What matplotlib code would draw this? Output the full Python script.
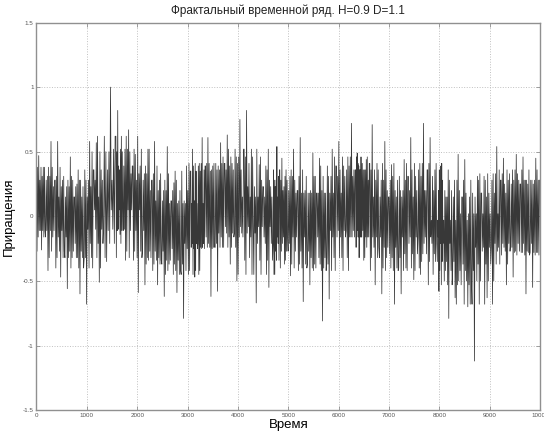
import matplotlib
matplotlib.use("Agg")
import matplotlib.pyplot as plt
import numpy as np

# Отсчёты: начало участка, верхний и нижний выбросы,
# верх и низ плотного "ядра" ряда на каждом участке
seg_start = [0, 181, 373, 565, 756, 948, 1140, 1332,
             1577, 1722, 1914, 2106, 2297, 2489, 2681, 2873, 3064,
             3204, 3356, 3548, 3740, 3931, 4123, 4315, 4506, 4698,
             4831, 4996, 5188, 5380, 5571, 5763, 5955, 6146, 6338,
             6458, 6617, 6808, 7000, 7192, 7383, 7575, 7767, 7958,
             8085, 8263, 8455, 8647, 8838, 9030, 9222, 9413, 9612, 9800]
seg_hi = [0.47, 0.58, 0.58, 0.46, 0.25, 0.58, 0.57, 1.00,
          0.82, 0.67, 0.48, 0.52, 0.58, 0.54, 0.26, 0.39, 0.52,
          0.61, 0.61, 0.57, 0.63, 0.75, 0.82, 0.40, 0.39, 0.54,
          0.45, 0.52, 0.61, 0.49, 0.45, 0.52, 0.58, 0.72, 0.49,
          0.44, 0.71, 0.58, 0.40, 0.44, 0.61, 0.72, 0.61, 0.39,
          0.15, 0.48, 0.44, 0.31, 0.31, 0.54, 0.45, 0.48, 0.46, 0.45]
seg_lo = [-0.26, -0.42, -0.47, -0.56, -0.60, -0.68, -0.51, -0.35,
          -0.14, -0.34, -0.59, -0.53, -0.53, -0.62, -0.59, -0.79, -0.47,
          -0.42, -0.62, -0.58, -0.37, -0.50, -0.32, -0.67, -0.55, -0.45,
          -0.37, -0.46, -0.66, -0.53, -0.81, -0.64, -0.32, -0.42, -0.32,
          -0.34, -0.53, -0.60, -0.68, -0.60, -0.49, -0.45, -0.45, -0.58,
          -0.79, -0.63, -0.70, -1.12, -0.63, -0.50, -0.53, -0.47, -0.60, -0.55]
core_hi = [0.38, 0.31, 0.28, 0.23, 0.15, 0.28, 0.36, 0.50,
           0.62, 0.52, 0.39, 0.33, 0.28, 0.20, 0.12, 0.10, 0.35,
           0.41, 0.39, 0.36, 0.41, 0.46, 0.52, 0.15, 0.23, 0.28,
           0.36, 0.31, 0.20, 0.18, 0.18, 0.31, 0.39, 0.46, 0.36,
           0.36, 0.41, 0.28, 0.15, 0.20, 0.31, 0.41, 0.36, 0.20,
           -0.03, 0.28, 0.15, 0.02, 0.18, 0.33, 0.28, 0.36, 0.25, 0.28]
core_lo = [-0.11, -0.16, -0.27, -0.32, -0.40, -0.32, -0.21, -0.10,
           0.05, -0.11, -0.32, -0.27, -0.34, -0.37, -0.42, -0.45, -0.25,
           -0.21, -0.24, -0.24, -0.16, -0.13, -0.08, -0.45, -0.34, -0.21,
           -0.16, -0.27, -0.40, -0.37, -0.42, -0.32, -0.16, -0.11, -0.16,
           -0.16, -0.24, -0.32, -0.42, -0.40, -0.29, -0.16, -0.21, -0.35,
           -0.53, -0.42, -0.50, -0.68, -0.37, -0.24, -0.27, -0.21, -0.30, -0.28]

t_end = 10000
x_ticks = list(range(0, 10001, 1000))
y_ticks = [-1.5, -1, -0.5, 0, 0.5, 1, 1.5]
y_tick_labels = ["-1.5", "-1", "-0.5", "0", "0.5", "1", "1.5"]

# порядок обхода уровней внутри участка: (уровень, сдвиг к соседнему участку)
ORDERS = [
    [("ch", 0), ("cl", 2), ("ch", -1), ("cl", 1), ("hi", 0), ("cl", -1), ("ch", 2), ("cl", 0),
     ("ch", -2), ("lo", 0), ("ch", 1), ("cl", -2), ("ch", 0), ("cl", 1), ("ch", -1), ("cl", 0)],
    [("cl", 0), ("ch", 1), ("cl", -2), ("ch", 0), ("lo", 0), ("ch", -1), ("cl", 2), ("ch", 0),
     ("cl", -1), ("hi", 0), ("cl", 1), ("ch", -2), ("cl", 0), ("ch", 2), ("cl", -1), ("ch", 1)],
]


def build_series():
    levels = {"hi": seg_hi, "lo": seg_lo, "ch": core_hi, "cl": core_lo}
    n = len(seg_start)
    bounds = seg_start + [t_end]
    t, v = [], []
    for i in range(n):
        order = ORDERS[i % 2]
        pos = np.linspace(bounds[i], bounds[i + 1], len(order), endpoint=False)
        for p, (key, off) in zip(pos, order):
            j = min(max(i + off, 0), n - 1)
            t.append(p)
            v.append(levels[key][j])
    return t, v


def main():
    plt.rcParams["font.family"] = ["Liberation Sans", "DejaVu Sans"]
    fig = plt.figure(figsize=(5.44, 4.34), dpi=100)
    ax = fig.add_axes([0.067, 0.055, 0.926, 0.893])

    t, v = build_series()
    ax.plot(t, v, color="#383838", linewidth=0.55)

    ax.set_xlim(0, 10000)
    ax.set_ylim(-1.5, 1.5)
    ax.set_xticks(x_ticks)
    ax.set_xticklabels([str(x) for x in x_ticks])
    ax.set_yticks(y_ticks)
    ax.set_yticklabels(y_tick_labels)
    ax.grid(True, linestyle=":", color="#c0c0c0", linewidth=0.7)

    ax.tick_params(direction="in", length=3, width=0.6, color="#909090",
                   labelsize=4.5, labelcolor="#555555", top=True, right=True, pad=2)
    for s in ax.spines.values():
        s.set_color("#909090")
        s.set_linewidth(1.0)

    ax.set_title("Фрактальный временной ряд. H=0.9 D=1.1", fontsize=8.5, color="#222222", pad=6)
    ax.set_xlabel("Время", fontsize=9.5, labelpad=1)
    ax.set_ylabel("Приращения", fontsize=9.5, labelpad=6)

    fig.savefig("out.png", dpi=100)


if __name__ == "__main__":
    main()
